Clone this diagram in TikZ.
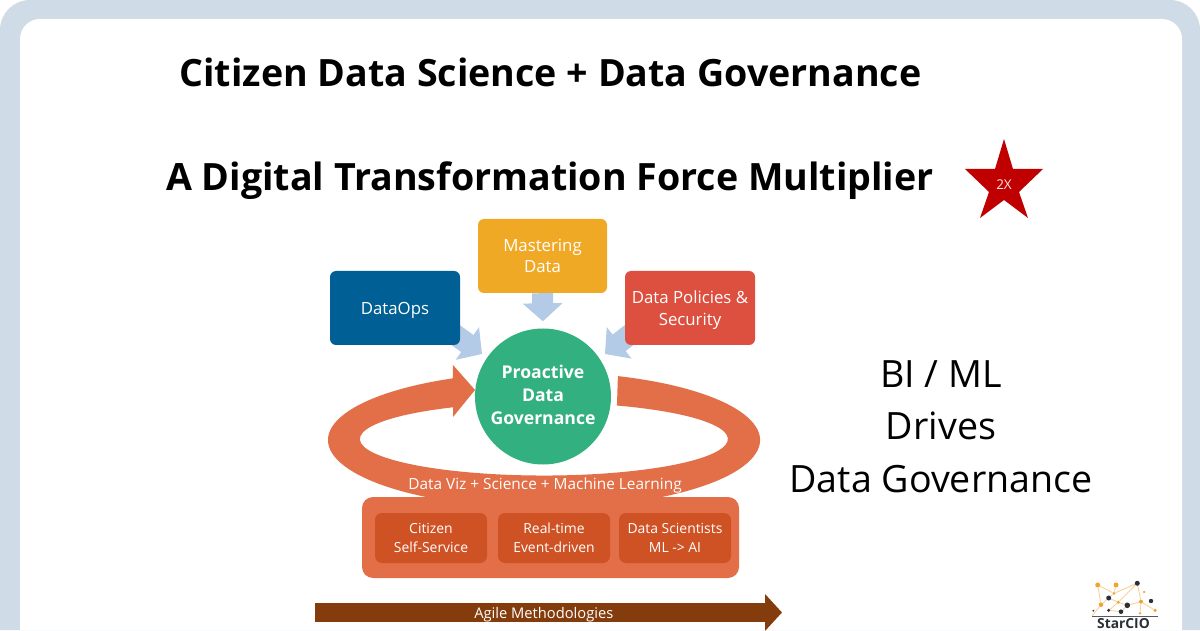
\documentclass[tikz,border=0pt]{standalone}
\usepackage{fontspec}
\setmainfont{Open Sans}
\usetikzlibrary{arrows.meta,backgrounds}
\definecolor{framecol}{HTML}{CFDBE7}
\definecolor{opscol}{HTML}{005F94}
\definecolor{mastercol}{HTML}{F0A925}
\definecolor{policycol}{HTML}{DD4F3F}
\definecolor{govcol}{HTML}{33B07F}
\definecolor{pushcol}{HTML}{B3CBE6}
\definecolor{ringcol}{HTML}{E26F47}
\definecolor{rolecol}{HTML}{CF5224}
\definecolor{agilecol}{HTML}{843C0C}
\definecolor{starcol}{HTML}{C00000}
\definecolor{logoline}{HTML}{F8D3A0}
\definecolor{logoorange}{HTML}{F2A52B}
\definecolor{logoblack}{HTML}{2B2F36}
\tikzset{
  headline/.style={font=\fontsize{37.6}{44}\selectfont\bfseries,inner sep=0pt},
  sideline/.style={font=\fontsize{37.6}{44}\selectfont,inner sep=0pt},
  topicbox/.style={rounded corners=6pt,text=white,align=center,minimum height=74pt,inner sep=0pt,
    text depth=0pt,font=\fontsize{16.8}{21.5}\selectfont},
  rolebox/.style={fill=rolecol,rounded corners=7pt,text=white,align=center,minimum width=112pt,
    minimum height=50pt,inner sep=0pt,font=\fontsize{13.9}{19}\selectfont},
  pusharrow/.style={pushcol,line width=21pt,-{Triangle[width=39pt,length=18pt]}},
  orangedot/.style={circle,fill=logoorange,inner sep=0pt},
  blackdot/.style={circle,fill=logoblack,inner sep=0pt},
}
\begin{document}
\begin{tikzpicture}[x=1pt,y=1pt]
  \useasboundingbox (0,0) rectangle (1200,630);
  \node[headline] (title) at (550.5,558) {Citizen Data Science + Data Governance};
  \node[headline] (subtitle) at (550,449) {A Digital Transformation Force Multiplier};
  \fill[starcol] (1004,491) -- (1013,461) -- (1043,461) -- (1019,438) -- (1028,412) -- (1004,430)
    -- (980,412) -- (989,438) -- (965,461) -- (995,461) -- cycle;
  \node[text=white!90!starcol,font=\fontsize{13.5}{14}\selectfont,inner sep=0pt] (twox) at (1004,445.5) {2X};

  \node[topicbox,fill=opscol,minimum width=130pt] (dataops) at (395,322) {DataOps};
  \node[topicbox,fill=mastercol,minimum width=129pt] (mastering) at (542.5,374) {Mastering\\Data};
  \node[topicbox,fill=policycol,minimum width=130pt] (policies) at (690,322) {Data Policies \&\\Security};
  \node[circle,fill=govcol,minimum size=136pt,inner sep=0pt,text=white,align=center,
    font=\fontsize{17.6}{23}\selectfont\bfseries] (gov) at (543,233.5) {Proactive\\Data\\Governance\vphantom{p}};

  \node[fill=ringcol,rounded corners=11pt,minimum width=377pt,minimum height=81pt,inner sep=0pt] (base) at (550.5,92.5) {};
  \node[rolebox] (citizen) at (431,92) {Citizen\\Self-Service};
  \node[rolebox] (realtime) at (554,92) {Real-time\\Event-driven};
  \node[rolebox] (scientists) at (675,92) {Data Scientists\\ML -> AI};
  \node[text=white,font=\fontsize{15.4}{17}\selectfont,inner sep=0pt] (viz) at (545,145) {Data Viz + Science + Machine Learning};

  \coordinate (agilestart) at (315,17.5);
  \coordinate (agileend) at (782,17.5);
  \draw[agilecol,line width=19pt,-{Triangle[width=36pt,length=17pt]}] (agilestart)
    -- node[pos=.49,yshift=-2.5pt,text=white,font=\fontsize{14.7}{16}\selectfont,inner sep=0pt] (agile) {Agile Methodologies} (agileend);

  \node[sideline] (biml) at (941,256) {BI / ML};
  \node[sideline] (drives) at (941,204) {Drives};
  \node[sideline] (dgov) at (941,151) {Data Governance};

  \node[orangedot,minimum size=5pt] (s1) at (1097.7,45) {};
  \node[orangedot,minimum size=5pt] (s2) at (1116,45) {};
  \node[blackdot,minimum size=5pt] (s3) at (1137.3,46.7) {};
  \node[orangedot,minimum size=2.5pt] (s4) at (1144,38) {};
  \node[orangedot,minimum size=3pt] (s5) at (1114,36.7) {};
  \node[blackdot,minimum size=5pt] (s6) at (1108.7,32) {};
  \node[orangedot,minimum size=4.6pt] (s7) at (1101,25.3) {};
  \node[orangedot,minimum size=3.4pt] (s8) at (1118.3,27.7) {};
  \node[blackdot,minimum size=5.6pt] (s9) at (1127.3,24.7) {};
  \node[orangedot,minimum size=4pt] (s10) at (1141,28.3) {};
  \node[blackdot,minimum size=4.4pt] (s11) at (1151,29) {};
  \node[blackdot,minimum size=2pt] (s12) at (1093.3,19.3) {};
  \node[blackdot,minimum size=3.4pt] (s13) at (1108.7,19.7) {};
  \node[blackdot,minimum size=4.6pt] (s14) at (1121,18.3) {};
  \node[orangedot,minimum size=3.6pt] (s15) at (1155,19.7) {};
  \node[orangedot,minimum size=2.6pt] (s16) at (1140,16.7) {};
  \coordinate (ruleleft) at (1092,14);
  \coordinate (ruleright) at (1158,14);
  \draw[logoblack!80,line width=1pt] (ruleleft) -- (ruleright);
  \node[text=logoblack,font=\fontsize{13.8}{14}\selectfont\bfseries,inner sep=0pt] (starcio) at (1123.5,6) {StarCIO};

  \begin{scope}[on background layer]
    \fill[framecol] (0,0) [rounded corners=30pt] -- (0,630) -- (1200,630) [sharp corners] -- (1200,0) -- cycle;
    \fill[white] (20,0) [rounded corners=20pt] -- (20,611) -- (1182,611) [sharp corners] -- (1182,0) -- cycle;
    \fill[ringcol] (617.9,253.9) arc[start angle=70,end angle=-245,x radius=216,y radius=68]
      -- (453,265) -- (475,240) -- (453,213) -- (453,222.7)
      arc[start angle=-240.4,end angle=66.6,x radius=184,y radius=36.5] -- cycle;
    \coordinate (dataopstip) at (482,276);
    \coordinate (policiestip) at (605,276);
    \draw[pusharrow,shorten <=-10pt] (dataops.-25) -- (dataopstip);
    \draw[pusharrow,shorten <=-10pt] (policies.205) -- (policiestip);
    \draw[pusharrow,shorten >=7pt] (mastering.south) -- (gov.north);
    \draw[logoline,line width=.9pt] (s1) -- (s5) -- (s3) -- (s8) -- (s9) -- (s10) -- (s15);
    \draw[logoline,line width=.9pt] (s1) -- (s7) -- (s6) -- (s8) -- (s13);
    \draw[logoline,line width=.9pt] (s2) -- (s5) -- (s6);
    \draw[logoline,line width=.9pt] (s3) -- (s10) -- (s16);
    \draw[logoline,line width=.9pt] (s7) -- (ruleleft);
    \draw[logoline,line width=.9pt] (s13) -- (s14) -- (s9);
  \end{scope}
\end{tikzpicture}
\end{document}
